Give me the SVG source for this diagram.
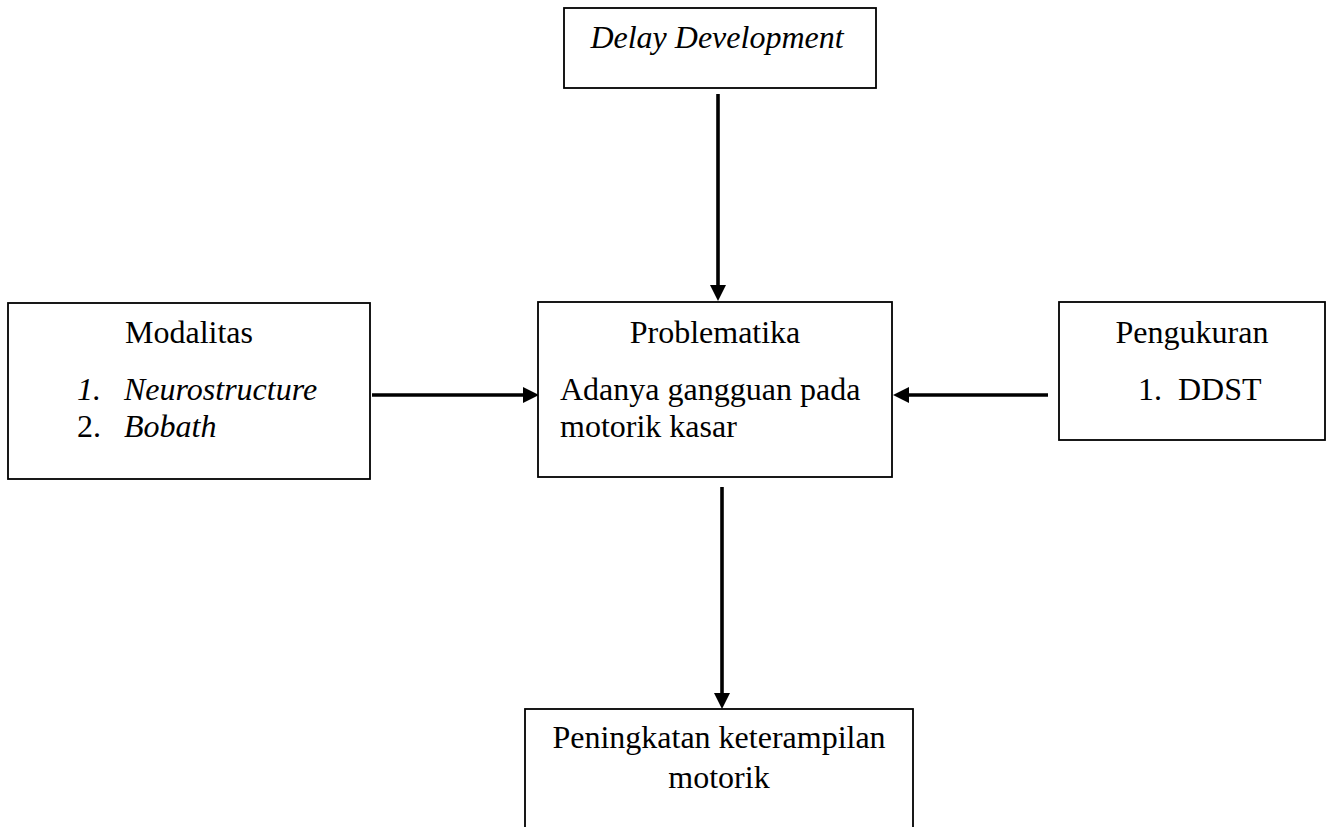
<svg xmlns="http://www.w3.org/2000/svg" width="1328" height="827" viewBox="0 0 1328 827">
<style>
  .box { fill: #ffffff; stroke: #000000; stroke-width: 1.8; }
  .t { font-family: "Liberation Serif", "Times New Roman", serif; font-size: 32px; fill: #000000; }
  .i { font-style: italic; }
  .c { text-anchor: middle; }
  .conn { stroke: #000000; stroke-width: 3.6; fill: none; marker-end: url(#arrow); }
</style>
<defs>
  <marker id="arrow" markerUnits="userSpaceOnUse" markerWidth="16" markerHeight="16" refX="6" refY="8" orient="auto">
    <path d="M0,0 L16,8 L0,16 Z" fill="#000000"/>
  </marker>
</defs>
<rect width="1328" height="827" fill="#ffffff"/>
<g id="connectors">
  <line class="conn" x1="718" y1="94" x2="718" y2="291"/>
  <line class="conn" x1="372" y1="395" x2="529" y2="395"/>
  <line class="conn" x1="1048" y1="395" x2="903" y2="395"/>
  <line class="conn" x1="722" y1="487" x2="722" y2="699"/>
</g>
<g id="node-delay">
  <rect class="box" x="564" y="8" width="312" height="80"/>
  <text class="t i c" x="717" y="48">Delay Development</text>
</g>
<g id="node-modalitas">
  <rect class="box" x="8" y="303" width="362" height="176"/>
  <text class="t c" x="189" y="343">Modalitas</text>
  <text class="t i" x="77" y="400">1.</text>
  <text class="t i" x="124" y="400">Neurostructure</text>
  <text class="t" x="77" y="437">2.</text>
  <text class="t i" x="124" y="437">Bobath</text>
</g>
<g id="node-problematika">
  <rect class="box" x="538" y="302" width="354" height="175"/>
  <text class="t c" x="715" y="343">Problematika</text>
  <text class="t" x="560" y="400">Adanya gangguan pada</text>
  <text class="t" x="560" y="437">motorik kasar</text>
</g>
<g id="node-pengukuran">
  <rect class="box" x="1059" y="302" width="266" height="138"/>
  <text class="t c" x="1192" y="343">Pengukuran</text>
  <text class="t" x="1138" y="400">1.</text>
  <text class="t" x="1178" y="400">DDST</text>
</g>
<g id="node-peningkatan">
  <rect class="box" x="525" y="709" width="388" height="140"/>
  <text class="t c" x="719" y="748">Peningkatan keterampilan</text>
  <text class="t c" x="719" y="788">motorik</text>
</g>
</svg>
